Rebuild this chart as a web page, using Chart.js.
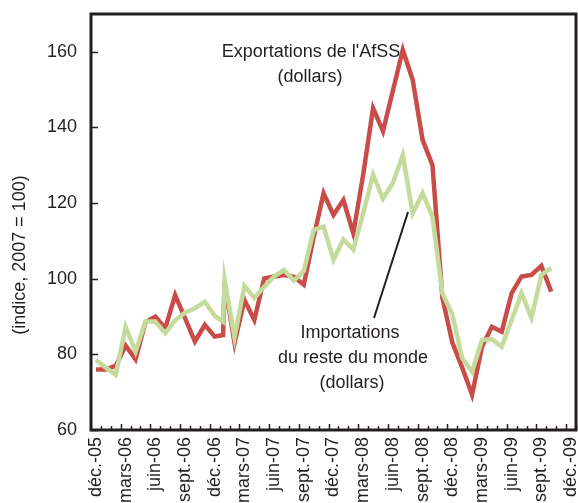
<!DOCTYPE html>
<html>
<head>
<meta charset="utf-8">
<script src="https://cdn.jsdelivr.net/npm/chart.js@4.4.1/dist/chart.umd.min.js"></script>
<style>
  html, body { margin: 0; padding: 0; background: #fff; }
</style>
</head>
<body>
<canvas id="tradeChart" width="578" height="503"></canvas>
<script>
const FONT = "'Liberation Sans Narrow', 'Liberation Sans', Arial, sans-serif";
const INK = '#231f20';

// one category per month, déc.-05 .. déc.-09
const months = [
  'déc.-05', 'janv.-06', 'févr.-06', 'mars-06', 'avr.-06', 'mai-06', 'juin-06', 'juil.-06', 'août-06',
  'sept.-06', 'oct.-06', 'nov.-06', 'déc.-06', 'janv.-07', 'févr.-07', 'mars-07', 'avr.-07', 'mai-07',
  'juin-07', 'juil.-07', 'août-07', 'sept.-07', 'oct.-07', 'nov.-07', 'déc.-07', 'janv.-08', 'févr.-08',
  'mars-08', 'avr.-08', 'mai-08', 'juin-08', 'juil.-08', 'août-08', 'sept.-08', 'oct.-08', 'nov.-08',
  'déc.-08', 'janv.-09', 'févr.-09', 'mars-09', 'avr.-09', 'mai-09', 'juin-09', 'juil.-09', 'août-09',
  'sept.-09', 'oct.-09', 'nov.-09', 'déc.-09'
];

// month position of each observation (the source has an extra reading just before janv.-07)
const monthPos = [
  0, 1, 2, 3, 4, 5, 6, 7, 8, 9, 10, 11, 12, 12.85,
  13, 14, 15, 16, 17, 18, 19, 20, 21, 22, 23, 24, 25, 26, 27, 28, 29, 30,
  31, 32, 33, 34, 35, 36, 37, 38, 39, 40, 41, 42, 43, 44, 45, 46
];

const exportsAfss = [
  76, 76, 77, 82.3, 78.7, 88.5, 90, 86.9, 95.7, 89.6, 83.4, 87.8, 84.7, 85.1,
  99, 83, 94.4, 89.1, 100.1, 100.6, 101, 100.5, 98.4, 111, 122.6, 116.9, 120.8, 112, 127.5, 145.1, 139, 149.7,
  160.5, 152.6, 136.7, 130, 95, 83.2, 76.5, 69.3, 82, 87.3, 86, 96.2, 100.6, 101, 103.4, 96.6
];

const importsRdm = [
  78.5, 76.5, 74.6, 87.3, 80.7, 88.7, 88.7, 85.6, 89, 91, 92.2, 93.9, 90.2, 88.6,
  99.7, 84.5, 98.1, 94.9, 97.9, 100.6, 102.3, 99.5, 102, 112.9, 113.8, 105, 110.4, 107.7, 117.3, 127.5, 121.2, 125.3,
  132.7, 117.3, 122.6, 116.4, 96.2, 90.6, 79, 75.4, 83.8, 84, 82, 89.1, 96.2, 89.6, 101, 102.8
];

const yTicks = [60, 80, 100, 120, 140, 160];

// frame, inward tick marks and the text notes
const frameAndNotes = {
  id: 'frameAndNotes',
  afterDraw(chart) {
    const { ctx, chartArea: a, scales: { x, y } } = chart;
    ctx.save();
    ctx.strokeStyle = INK;
    ctx.lineWidth = 1.5;
    ctx.beginPath();
    for (let i = 0; i < months.length; i++) {
      const px = Math.round(x.getPixelForValue(i + 0.5)) + 0.5;
      ctx.moveTo(px, a.bottom);
      ctx.lineTo(px, a.bottom - (i % 3 === 2 ? 6 : 4));
    }
    yTicks.forEach(v => {
      const py = Math.round(y.getPixelForValue(v)) + 0.5;
      ctx.moveTo(a.left, py);
      ctx.lineTo(a.left + 7, py);
    });
    ctx.stroke();

    ctx.lineWidth = 3;
    ctx.strokeRect(a.left, a.top, a.right - a.left, a.bottom - a.top);

    // pointer for the imports note
    ctx.lineWidth = 2;
    ctx.beginPath();
    ctx.moveTo(408, 212);
    ctx.lineTo(374, 318);
    ctx.stroke();

    ctx.fillStyle = INK;
    ctx.font = '18px ' + FONT;
    ctx.textAlign = 'center';
    ctx.textBaseline = 'middle';
    ctx.fillText("Exportations de l'AfSS", 311, 52);
    ctx.fillText('(dollars)', 310, 77);
    ctx.fillText('Importations', 350, 333);
    ctx.fillText('du reste du monde', 353, 358);
    ctx.fillText('(dollars)', 352, 383);

    ctx.translate(20, 255);
    ctx.rotate(-Math.PI / 2);
    ctx.fillText('(indice, 2007 = 100)', 0, 0);
    ctx.restore();
  }
};

const toPoints = vals => monthPos.map((m, k) => ({ x: m, y: vals[k] }));

new Chart(document.getElementById('tradeChart'), {
  type: 'line',
  data: {
    datasets: [{
      label: "Exportations de l'AfSS (dollars)",
      data: toPoints(exportsAfss),
      borderColor: '#c94c48',
      borderWidth: 4.5,
      pointRadius: 0,
      tension: 0,
      order: 2
    }, {
      label: 'Importations du reste du monde (dollars)',
      data: toPoints(importsRdm),
      borderColor: '#c4db9c',
      borderWidth: 4.5,
      pointRadius: 0,
      tension: 0,
      order: 1
    }]
  },
  options: {
    responsive: false,
    animation: false,
    layout: { padding: { top: 14, right: 2, left: 0, bottom: 0 } },
    plugins: { legend: { display: false }, tooltip: { enabled: false } },
    scales: {
      x: {
        type: 'linear',
        min: -0.5,
        max: 48.5,
        afterBuildTicks: ax => { ax.ticks = months.map((_, i) => ({ value: i })); },
        afterFit: ax => {
          ax.height = 73;
          ax.paddingLeft = 0;
          ax.paddingRight = 0;
        },
        grid: { display: false, drawTicks: false },
        border: { display: false },
        ticks: {
          autoSkip: false,
          minRotation: 90,
          maxRotation: 90,
          padding: 7,
          color: INK,
          font: { family: FONT, size: 18 },
          callback: v => (v % 3 === 0 ? months[v] : '')
        }
      },
      y: {
        min: 60,
        max: 170,
        afterBuildTicks: ax => { ax.ticks = yTicks.map(v => ({ value: v })); },
        afterFit: ax => {
          ax.width = 91;
          ax.paddingTop = 0;
          ax.paddingBottom = 0;
        },
        grid: { display: false, drawTicks: false },
        border: { display: false },
        ticks: {
          padding: 14,
          color: INK,
          font: { family: FONT, size: 18 }
        }
      }
    }
  },
  plugins: [frameAndNotes]
});
</script>
</body>
</html>
